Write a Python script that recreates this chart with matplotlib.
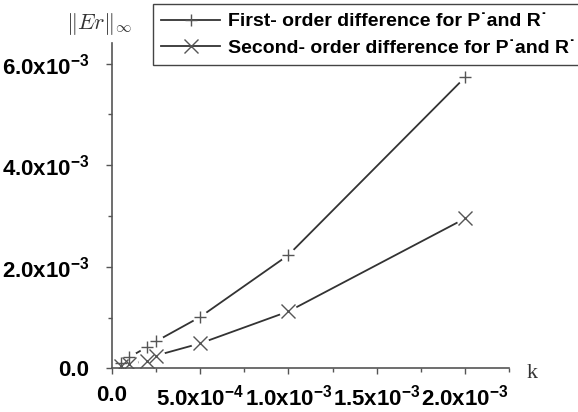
import matplotlib
matplotlib.use('Agg')
import matplotlib.pyplot as plt
from matplotlib.ticker import MultipleLocator

# step size k and max error for both schemes
k = [5e-5, 1e-4, 2e-4, 2.5e-4, 5e-4, 1e-3, 2e-3]
err_first = [0.11e-3, 0.22e-3, 0.42e-3, 0.53e-3, 1.01e-3, 2.23e-3, 5.73e-3]
err_second = [0.04e-3, 0.08e-3, 0.15e-3, 0.25e-3, 0.49e-3, 1.12e-3, 2.95e-3]

xticks = [0, 5e-4, 1e-3, 1.5e-3, 2e-3]
xlabels = ['0.0', '5.0x10$^{-4}$', '1.0x10$^{-3}$', '1.5x10$^{-3}$', '2.0x10$^{-3}$']
yticks = [0, 2e-3, 4e-3, 6e-3]
ylabels = ['0.0', '2.0x10$^{-3}$', '4.0x10$^{-3}$', '6.0x10$^{-3}$']

labels = ['First- order difference for P\u02D9and R\u02D9',
          'Second- order difference for P\u02D9and R\u02D9']

plt.rcParams['font.family'] = 'Liberation Sans'
plt.rcParams['font.weight'] = 'bold'
plt.rcParams['mathtext.fontset'] = 'custom'
plt.rcParams['mathtext.rm'] = 'Liberation Sans:bold'
plt.rcParams['mathtext.it'] = 'Liberation Sans:bold'
plt.rcParams['mathtext.bf'] = 'Liberation Sans:bold'
plt.rcParams['mathtext.default'] = 'bf'

fig = plt.figure(figsize=(5.78, 4.12), dpi=100)
ax = fig.add_axes([0.1933, 0.106, 0.881 - 0.1933, 0.789])

line_c = '#333333'
mark_c = '#555555'
handles = []
for y, m, ms, lab in [(err_first, '+', 8, labels[0]), (err_second, 'x', 10, labels[1])]:
    ax.plot(k, y, '-', color=line_c, lw=1.3, zorder=2)
    # white gaps around markers, Origin style
    ax.plot(k, y, 'o', ms=ms + 3, mfc='white', mec='none', zorder=2.1)
    ax.plot(k, y, m, ms=ms, color=mark_c, mew=1.0, zorder=2.2)
    handles.append(plt.Line2D([], [], color=line_c, lw=1.3, marker=m, ms=ms,
                              mec=mark_c, mew=1.0, label=lab))

ax.set_xlim(0, 2.25e-3)
ax.set_ylim(0, 6.4e-3)
ax.set_xticks(xticks)
ax.set_xticklabels(xlabels, fontsize=16)
ax.set_yticks(yticks)
ax.set_yticklabels(ylabels, fontsize=16)
ax.xaxis.set_minor_locator(MultipleLocator(2.5e-4))
ax.yaxis.set_minor_locator(MultipleLocator(1e-3))
ax.tick_params(which='major', direction='out', length=4, width=1, color=mark_c)
ax.tick_params(which='minor', direction='out', length=3, width=1, color=mark_c)
ax.tick_params(axis='y', pad=12)
ax.tick_params(axis='x', pad=8)
for s in ['top', 'right']:
    ax.spines[s].set_visible(False)
for s in ['left', 'bottom']:
    ax.spines[s].set_color(mark_c)
    ax.spines[s].set_linewidth(1.2)

fig.text(99 / 578, 1 - 24 / 412, r'$\|\mathit{Er}\|_\infty$', fontsize=16,
         math_fontfamily='cm', ha='center', va='center', fontweight='normal',
         color='#333333')
fig.text(532 / 578, 1 - 373 / 412, 'k', fontsize=16, family='Liberation Serif',
         fontweight='normal', ha='center', va='center', color='#333333')

leg = fig.legend(handles=handles, loc='upper left',
                 bbox_to_anchor=(152.7 / 578, 1 - 4 / 412), borderaxespad=0,
                 fontsize=14, handlelength=3.0, handletextpad=0.4,
                 fancybox=False, edgecolor='#444444', framealpha=1,
                 labelspacing=0.45, borderpad=0.45)
leg.get_frame().set_linewidth(1.0)

fig.savefig('out.png', dpi=100)
